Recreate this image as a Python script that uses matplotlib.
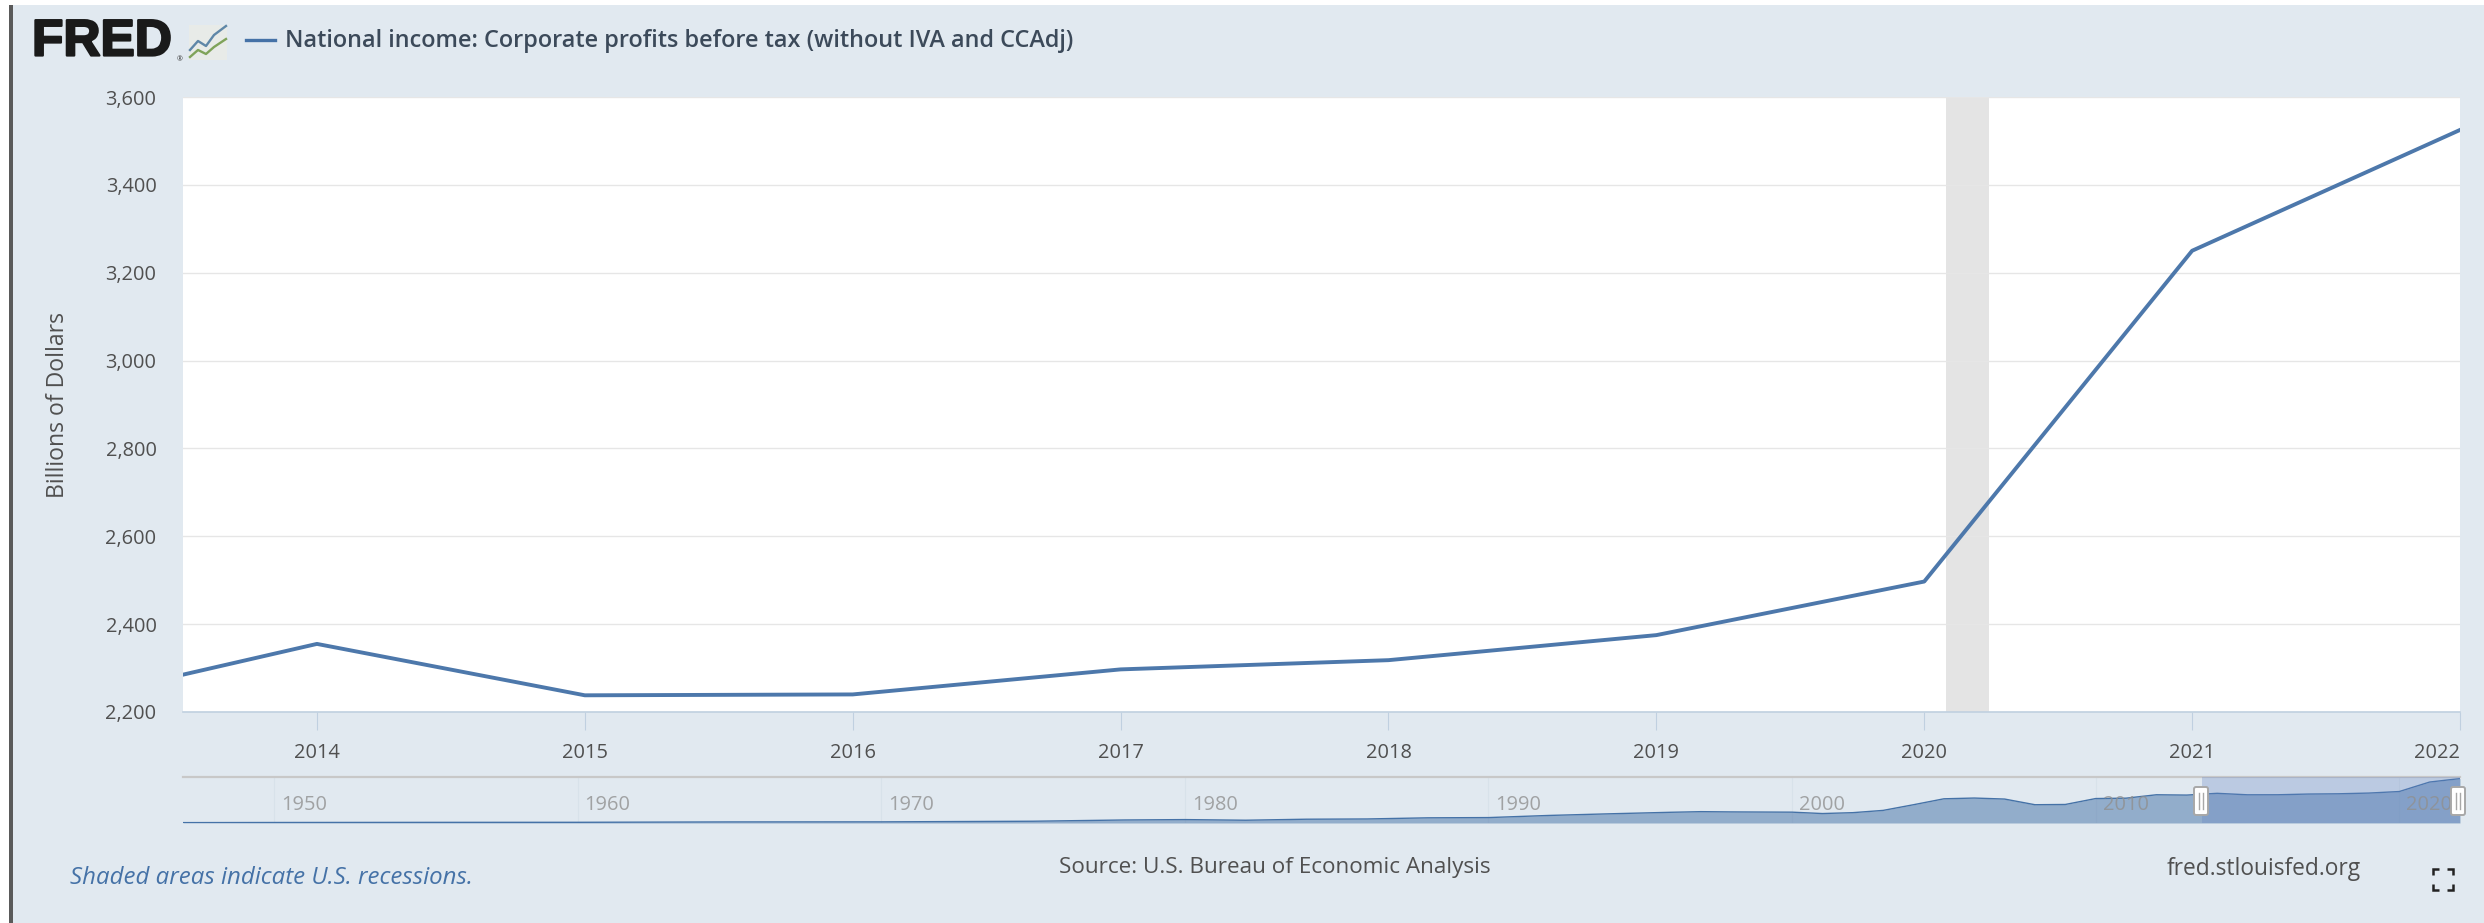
import matplotlib
matplotlib.use("Agg")
import matplotlib.pyplot as plt
import matplotlib.patheffects as pe
from matplotlib.patches import Rectangle, FancyBboxPatch
from matplotlib.ticker import FuncFormatter

# Annual series, billions of dollars
years = [2013, 2014, 2015, 2016, 2017, 2018, 2019, 2020, 2021, 2022]
profits = [2215, 2355, 2238, 2240, 2297, 2318, 2375, 2497, 3250, 3525]
recession = (2020.08, 2020.24)

y_ticks = [2200, 2400, 2600, 2800, 3000, 3200, 3400, 3600]
x_ticks = [2014, 2015, 2016, 2017, 2018, 2019, 2020, 2021, 2022]

# Full history for the range selector
nav_years = [1947, 1950, 1955, 1960, 1965, 1970, 1975, 1978, 1980, 1982, 1984, 1986,
             1988, 1990, 1992, 1994, 1996, 1997, 1998, 2000, 2001, 2002, 2003, 2004,
             2005, 2006, 2007, 2008, 2009, 2010, 2011, 2012, 2013, 2014, 2015, 2016,
             2017, 2018, 2019, 2020, 2021, 2022]
nav_values = [30, 40, 50, 55, 85, 90, 140, 240, 270, 220, 300, 320,
              410, 430, 600, 730, 850, 900, 880, 860, 750, 820, 1000, 1450,
              1920, 1980, 1900, 1450, 1470, 1940, 1970, 2240, 2215, 2355, 2238, 2240,
              2297, 2318, 2375, 2497, 3250, 3525]
nav_ticks = [1950, 1960, 1970, 1980, 1990, 2000, 2010, 2020]
nav_window = (2013.5, 2022)

W, H = 2484, 923
BG = "#e1e9f0"
BLUE = "#4572a7"
TICK = "#c0d0e0"
TEXT = "#505050"

plt.rcParams["font.family"] = ["Open Sans", "DejaVu Sans"]

fig = plt.figure(figsize=(W / 100, H / 100), dpi=100, facecolor="white")


def px_axes(left, top, right, bottom, **kw):
    return fig.add_axes([left / W, 1 - bottom / H, (right - left) / W, (bottom - top) / H], **kw)


# Page layer addressed in pixels
page = fig.add_axes([0, 0, 1, 1], zorder=0)
page.set_xlim(0, W)
page.set_ylim(H, 0)
page.axis("off")
page.add_patch(Rectangle((13, 5), W - 13, H - 5, facecolor=BG, edgecolor="none"))
page.add_patch(Rectangle((9, 5), 4, H - 5, facecolor="#5a5a5a", edgecolor="none"))

# Logo and legend
page.text(32, 42, "FRED", fontsize=37, fontweight="bold", family="Liberation Sans",
          color="#1a1a1a", va="center", ha="left",
          path_effects=[pe.withStroke(linewidth=1.6, foreground="#1a1a1a")])
page.text(177, 60, "®", fontsize=5, color="#333333", va="center")
page.add_patch(Rectangle((189, 25), 38, 35, facecolor="#e8ebe8", edgecolor="none"))
page.plot([190, 198, 206, 214, 226], [50, 41, 46, 35, 26], color="#5f87a8", lw=1.7)
page.plot([190, 198, 206, 214, 226], [57, 50, 54, 47, 39], color="#7fa35a", lw=1.7)
page.plot([246, 275], [40, 40], color=BLUE, lw=2.4)
page.text(285, 41, "National income: Corporate profits before tax (without IVA and CCAdj)",
          fontsize=16.9, fontweight="semibold", color="#3c4a5a", va="center", ha="left")

# Main chart
ax = px_axes(183, 97, 2460, 712, facecolor="white", zorder=1)
ax.axvspan(*recession, color="#e4e4e4", lw=0, zorder=1)
ax.plot(years, profits, color="#4d78ab", lw=2.8, zorder=3, solid_joinstyle="round")
ax.set_xlim(2013.5, 2022)
ax.set_ylim(2200, 3600)
ax.set_yticks(y_ticks)
ax.set_xticks(x_ticks)
ax.yaxis.set_major_formatter(FuncFormatter(lambda v, _: f"{v:,.0f}"))
ax.grid(True, axis="y", color="#e6e6e6", lw=1.0, zorder=0)
for name in ["top", "right", "left"]:
    ax.spines[name].set_visible(False)
ax.spines["bottom"].set_color(TICK)
ax.spines["bottom"].set_linewidth(1.2)
ax.tick_params(axis="y", length=0, pad=19, labelsize=14.4, labelcolor=TEXT)
ax.tick_params(axis="x", length=13, width=0.8, color=TICK, pad=9, labelsize=14.4, labelcolor=TEXT)
ax.get_xticklabels()[-1].set_ha("right")
ax.get_xticklabels()[-1].set_x(2022)
ax.set_ylabel("Billions of Dollars", fontsize=16.6, color=TEXT)
ax.yaxis.set_label_coords((70 - 183) / (2460 - 183), 0.5)

# Range selector
nav = px_axes(183, 777, 2460, 823, facecolor="none", zorder=2)
nav.set_axisbelow(True)
nav.fill_between(nav_years, nav_values, 0, color=BLUE, alpha=0.5, lw=0, zorder=1)
nav.plot(nav_years, nav_values, color=BLUE, lw=1.0, zorder=2)
nav.set_xlim(1947, 2022)
nav.set_ylim(0, 3650)
nav.set_yticks([])
nav.set_xticks(nav_ticks)
nav.tick_params(axis="x", length=0, labelbottom=False)
nav.grid(True, axis="x", color="#d8e2ea", lw=0.8, zorder=0)
for name in ["left", "right", "bottom"]:
    nav.spines[name].set_visible(False)
nav.spines["top"].set_color("#c8c8c8")
nav.spines["top"].set_linewidth(1.6)
nav.axvspan(*nav_window, color="#6685c2", alpha=0.3, lw=0, zorder=4)
for yr in nav_ticks:
    nav.annotate(str(yr), xy=(yr, 0), xycoords=("data", "axes fraction"),
                 xytext=(5, 6), textcoords="offset points", fontsize=14.4,
                 color="#909090", alpha=0.8, ha="left", va="bottom", zorder=5)

# Selector handles, drawn on a layer above the selector
handles = fig.add_axes([0, 0, 1, 1], zorder=3, facecolor="none")
handles.set_xlim(0, W)
handles.set_ylim(H, 0)
handles.axis("off")
for hx in (2201, 2458):
    handles.add_patch(FancyBboxPatch((hx - 7, 787), 14, 28, boxstyle="round,pad=0,rounding_size=2",
                                     facecolor="white", edgecolor="#a8a8a8", lw=1.4))
    handles.plot([hx - 2, hx - 2], [793, 809], color="#a8a8a8", lw=1.0)
    handles.plot([hx + 2, hx + 2], [793, 809], color="#a8a8a8", lw=1.0)

# Footer
page.text(70, 878, "Shaded areas indicate U.S. recessions.", fontsize=17.3, style="italic",
          color=BLUE, va="center", ha="left")
page.text(1059, 868, "Source: U.S. Bureau of Economic Analysis", fontsize=16.2,
          color=TEXT, va="center", ha="left")
page.text(2167, 869, "fred.stlouisfed.org", fontsize=16.4, color=TEXT, va="center", ha="left")

# Fullscreen icon corners
for cx, cy, dx, dy in [(2433, 869, 1, 1), (2453, 869, -1, 1), (2433, 890, 1, -1), (2453, 890, -1, -1)]:
    page.plot([cx + 6 * dx, cx, cx], [cy, cy, cy + 6 * dy], color="#222222", lw=1.8,
              solid_joinstyle="miter", solid_capstyle="butt")

fig.savefig("out.png", dpi=100, facecolor="white")
